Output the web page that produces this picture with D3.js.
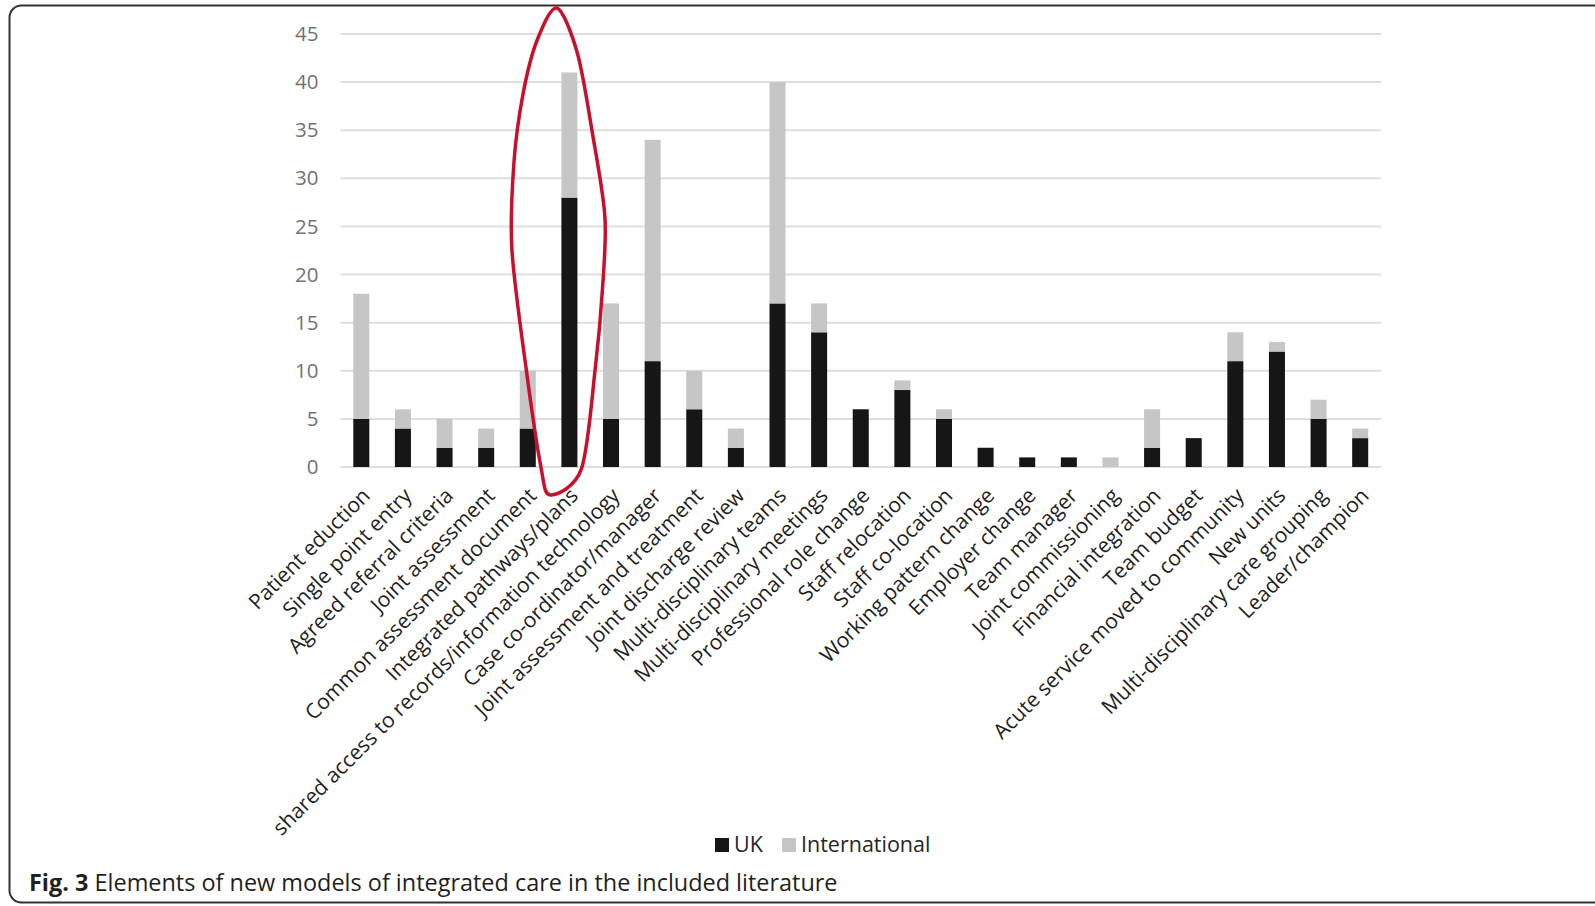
<!DOCTYPE html>
<html lang="en">
<head>
<meta charset="UTF-8">
<title>Fig. 3</title>
<script src="https://cdnjs.cloudflare.com/ajax/libs/d3/7.8.5/d3.min.js"></script>
<style>
  body { margin: 0; background: #fff; }
  svg { display: block; font-family: "Open Sans", sans-serif; }
</style>
</head>
<body>
<div id="chart"></div>
<script>
// data
var categories = [
  "Patient eduction", "Single point entry", "Agreed referral criteria", "Joint assessment",
  "Common assessment document", "Integrated pathways/plans",
  "shared access to records/information technology", "Case co-ordinator/manager",
  "Joint assessment and treatment", "Joint discharge review", "Multi-disciplinary teams",
  "Multi-disciplinary meetings", "Professional role change", "Staff relocation",
  "Staff co-location", "Working pattern change", "Employer change", "Team manager",
  "Joint commissioning", "Financial integration", "Team budget",
  "Acute service moved to community", "New units", "Multi-disciplinary care grouping",
  "Leader/champion"
];
var ukValues   = [5, 4, 2, 2, 4, 28, 5, 11, 6, 2, 17, 14, 6, 8, 5, 2, 1, 1, 0, 2, 3, 11, 12, 5, 3];
var intlValues = [13, 2, 3, 2, 6, 13, 12, 23, 4, 2, 23, 3, 0, 1, 1, 0, 0, 0, 1, 4, 0, 3, 1, 2, 1];
var seriesNames = ["UK", "International"];
var yTicks = [0, 5, 10, 15, 20, 25, 30, 35, 40, 45];
var captionBold = "Fig. 3";
var captionRest = " Elements of new models of integrated care in the included literature";

// hand drawn red loop around "Integrated pathways/plans": [offset from bar centre px, value]
var highlightCat = "Integrated pathways/plans";
var loopPoints = [
  [-12.5, 47.7], [8, 43.0], [23, 34.7], [35.5, 26.0], [33, 18.4], [26, 10.4],
  [12, -0.2], [-19, -2.9], [-28.5, 0], [-43.5, 10.4], [-57.5, 22.6], [-55.5, 31.6],
  [-46.5, 38.7], [-32.5, 44.3]
];

var width = 1595, height = 906;
var colors = { "UK": "#161616", "International": "#c5c6c5" };

var svg = d3.select("#chart").append("svg")
  .attr("width", width)
  .attr("height", height);

// frame (runs off the right edge like the scan)
svg.append("rect")
  .attr("x", 9.5).attr("y", 5.5)
  .attr("width", 1640).attr("height", 897)
  .attr("rx", 12).attr("ry", 12)
  .attr("fill", "none")
  .attr("stroke", "#333")
  .attr("stroke-width", 2);

var x = d3.scaleBand()
  .domain(categories)
  .range([340.5, 1381])
  .paddingInner(0.615)
  .paddingOuter(0.3075);

var y = d3.scaleLinear()
  .domain([0, 45])
  .range([467, 34]);

// gridlines
svg.append("g").selectAll("line")
  .data(yTicks)
  .enter().append("line")
  .attr("x1", 340.5).attr("x2", 1381)
  .attr("y1", function(d){ return y(d); })
  .attr("y2", function(d){ return y(d); })
  .attr("stroke", "#dedede")
  .attr("stroke-width", 2);

// y axis labels
var yAxis = svg.append("g")
  .attr("transform", "translate(340.5,0)")
  .call(d3.axisLeft(y).tickValues(yTicks).tickSize(0).tickPadding(22));
yAxis.select(".domain").remove();
yAxis.selectAll("text")
  .attr("fill", "#737373")
  .style("font-size", "20.5px")
  .style("font-family", "Open Sans, sans-serif");

// stacked bars
var table = categories.map(function(c, i){
  return { cat: c, "UK": ukValues[i], "International": intlValues[i] };
});
var stacked = d3.stack().keys(seriesNames)(table);

svg.append("g").selectAll("g")
  .data(stacked)
  .enter().append("g")
  .attr("fill", function(d){ return colors[d.key]; })
  .selectAll("rect")
  .data(function(d){ return d; })
  .enter().append("rect")
  .attr("x", function(d){ return x(d.data.cat); })
  .attr("width", x.bandwidth())
  .attr("y", function(d){ return y(d[1]); })
  .attr("height", function(d){ return y(d[0]) - y(d[1]); });

// x labels, rotated
var xLab = svg.append("g").selectAll("text")
  .data(categories)
  .enter().append("text")
  .attr("transform", function(d){
    var cx = x(d) + x.bandwidth() / 2;
    return "translate(" + (cx + 10) + ",497) rotate(-45)";
  })
  .attr("text-anchor", "end")
  .attr("fill", "#1f1f1f")
  .style("font-size", "20px")
  .text(function(d){ return d; });

// size the labels so they match the scan
var firstLen = xLab.nodes()[0].getComputedTextLength();
var labSize = 20 * 161 / firstLen;
xLab.style("font-size", labSize + "px");

// legend
var legend = svg.append("g").attr("transform", "translate(715,838)");
var legX = [0, 67];
seriesNames.forEach(function(s, i){
  var g = legend.append("g").attr("transform", "translate(" + legX[i] + ",0)");
  g.append("rect").attr("width", 14).attr("height", 14).attr("fill", colors[s]);
  g.append("text").attr("x", 19).attr("y", 14)
    .attr("fill", "#262626")
    .style("font-size", "21.5px")
    .text(s);
});

// red loop annotation
var cxHi = x(highlightCat) + x.bandwidth() / 2;
var loop = d3.line()
  .x(function(d){ return cxHi + d[0]; })
  .y(function(d){ return y(d[1]); })
  .curve(d3.curveCardinalClosed.tension(0.1));
svg.append("path")
  .attr("d", loop(loopPoints))
  .attr("fill", "none")
  .attr("stroke", "#c8102e")
  .attr("stroke-width", 3.5);

// caption
var cap = svg.append("text")
  .attr("x", 29).attr("y", 891)
  .attr("fill", "#231f20")
  .style("font-size", "22px");
cap.append("tspan").attr("font-weight", "bold").text(captionBold);
cap.append("tspan").text(captionRest);
var capLen = cap.node().getComputedTextLength();
cap.style("font-size", (22 * 809 / capLen) + "px");
</script>
</body>
</html>
